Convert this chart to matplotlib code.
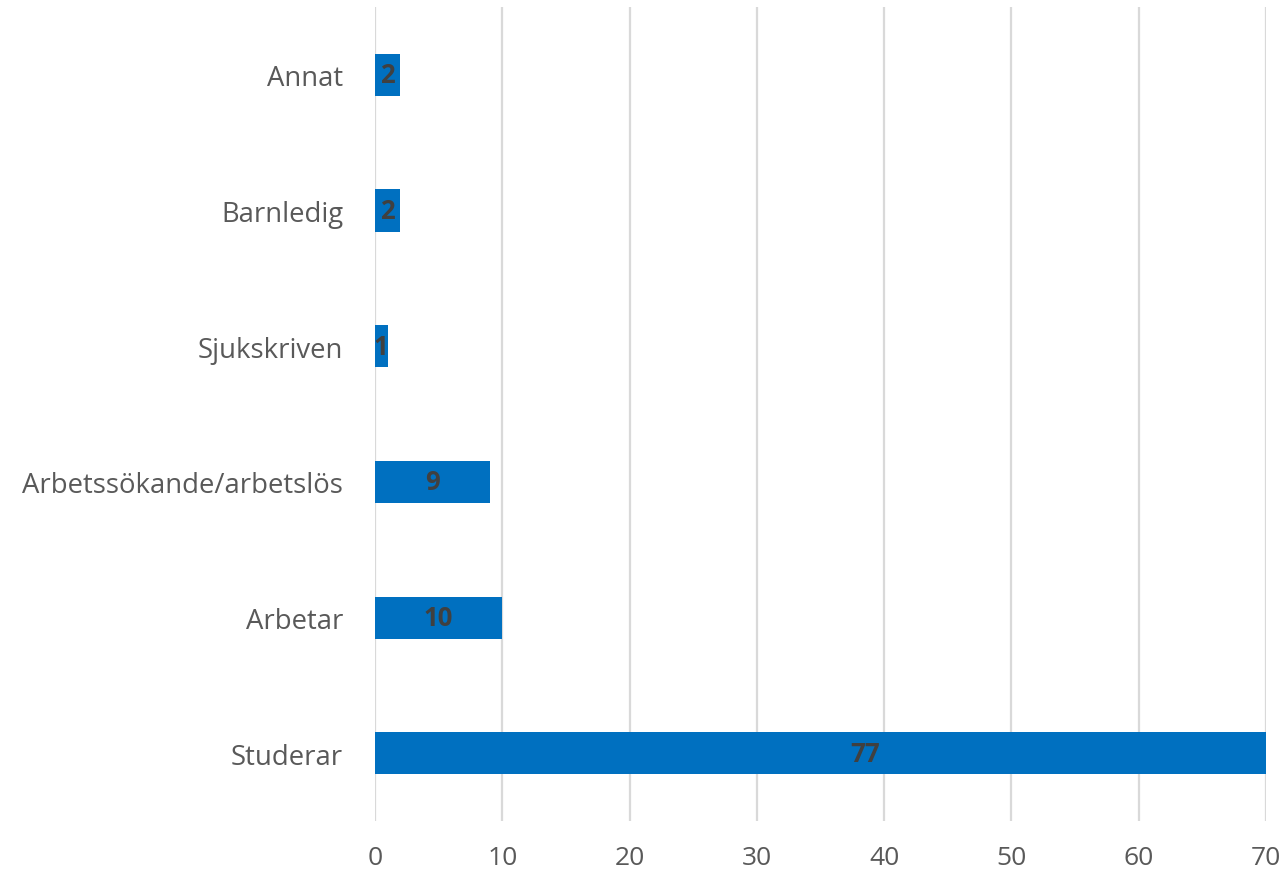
import matplotlib
matplotlib.use("Agg")
import matplotlib.pyplot as plt

categories = ["Studerar", "Arbetar", "Arbetssökande/arbetslös", "Sjukskriven", "Barnledig", "Annat"]
values = [77, 10, 9, 1, 2, 2]
xticks = [0, 10, 20, 30, 40, 50, 60, 70]

plt.rcParams['font.family'] = ['Open Sans', 'DejaVu Sans']

fig = plt.figure(figsize=(12.86, 8.79), dpi=100)
ax = fig.add_axes([0.2916, 0.0648, 0.6928, 0.9261])

y = list(range(len(categories)))
ax.barh(y, values, height=0.31, color="#0070C0", zorder=3)
for yi, v in zip(y, values):
    ax.text(v / 2, yi, str(v), ha="center", va="center", fontsize=18.5,
            fontweight="bold", color="#404040", zorder=4, clip_on=False)

ax.set_xlim(0, 70)
ax.set_ylim(-0.5, len(categories) - 0.5)
ax.set_yticks(y)
ax.set_yticklabels(categories)
ax.set_xticks(xticks)
ax.set_xticklabels([str(t) for t in xticks])
ax.tick_params(axis="both", length=0, labelcolor="#595959")
ax.tick_params(axis="y", labelsize=19.8, pad=23)
ax.tick_params(axis="x", labelsize=19, pad=17)
ax.grid(axis="x", color="#d9d9d9", linewidth=1.6, zorder=0)
for s in ax.spines.values():
    s.set_visible(False)

fig.savefig("out.png", dpi=100)
